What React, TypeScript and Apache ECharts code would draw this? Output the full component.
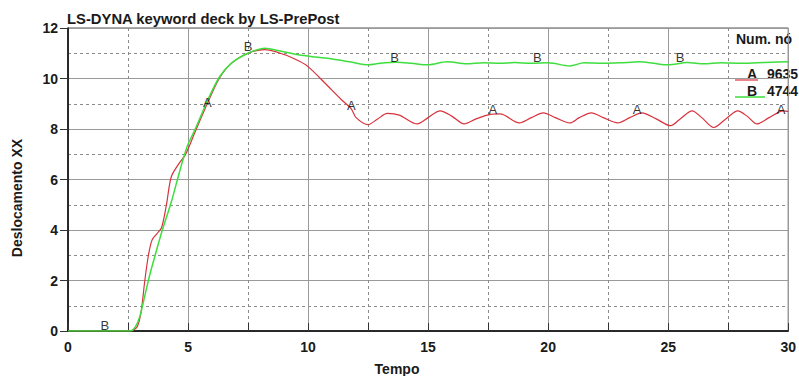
import React, { useEffect, useRef } from "react";
import * as echarts from "echarts";

const seriesNames = ["A", "B"];
const nodeIds = ["9635", "4744"];

const curveA: [number, number][] = [
  [0, 0], [2.6, 0], [2.75, 0.05], [2.9, 0.2], [3.05, 0.8], [3.2, 2.0], [3.35, 3.0], [3.5, 3.6],
  [3.7, 3.85], [3.9, 4.1], [4.1, 5.0], [4.3, 6.1], [4.6, 6.6], [4.9, 7.0], [5.3, 7.9], [5.8, 9.0],
  [6.3, 10.0], [6.8, 10.6], [7.5, 11.0], [8.2, 11.14], [9.0, 10.95], [9.6, 10.7], [10.0, 10.47],
  [10.7, 9.82], [11.4, 9.15], [11.8, 8.8], [12.0, 8.45], [12.5, 8.17], [12.9, 8.4], [13.3, 8.62],
  [13.8, 8.55], [14.55, 8.2], [15.0, 8.45], [15.5, 8.72], [16.0, 8.5], [16.5, 8.2], [17.0, 8.4],
  [17.6, 8.58], [18.0, 8.6], [18.8, 8.24], [19.3, 8.45], [19.8, 8.64], [20.3, 8.45], [20.9, 8.24],
  [21.3, 8.45], [21.8, 8.64], [22.3, 8.45], [22.9, 8.24], [23.4, 8.45], [23.9, 8.64], [24.5, 8.4],
  [25.1, 8.13], [25.5, 8.4], [26.0, 8.72], [26.4, 8.45], [26.9, 8.06], [27.4, 8.4], [27.9, 8.72],
  [28.3, 8.5], [28.7, 8.2], [29.2, 8.45], [29.8, 8.72], [30, 8.7],
];

const curveB: [number, number][] = [
  [0, 0], [2.6, 0], [2.8, 0.15], [3.0, 0.6], [3.2, 1.4], [3.4, 2.2], [3.6, 2.9], [3.93, 4.0],
  [4.3, 5.1], [4.63, 6.25], [4.96, 7.3], [5.3, 8.0], [5.8, 9.1], [6.3, 10.05], [6.8, 10.6],
  [7.5, 11.0], [8.2, 11.2], [8.8, 11.1], [9.6, 10.94], [10.3, 10.85], [10.95, 10.78], [11.8, 10.65],
  [12.5, 10.54], [13.0, 10.6], [13.7, 10.64], [14.3, 10.6], [15.0, 10.54], [15.8, 10.66],
  [16.6, 10.58], [17.3, 10.62], [18.0, 10.6], [18.6, 10.63], [19.3, 10.6], [20.0, 10.62],
  [20.9, 10.5], [21.5, 10.62], [22.3, 10.6], [23.0, 10.62], [23.8, 10.66], [24.4, 10.6],
  [25.0, 10.54], [25.8, 10.63], [26.5, 10.58], [27.2, 10.62], [28.0, 10.6], [28.7, 10.62],
  [29.3, 10.64], [30, 10.66],
];

const labelPointsA: [number, number][] = [[5.8, 9.03], [11.8, 8.95], [17.7, 8.76], [23.7, 8.76], [29.7, 8.76]];
const labelPointsB: [number, number][] = [[1.53, 0.23], [7.5, 11.26], [13.6, 10.82], [19.55, 10.82], [25.5, 10.82]];

const xTicks = { min: 0, max: 30, interval: 5 };
const yTicks = { min: 0, max: 12, interval: 2 };

const colorA = "#d8323c";
const colorB = "#3ede3e";
const FONT = "Liberation Sans, Arial, sans-serif";

export default function App() {
  const ref = useRef<HTMLDivElement>(null);
  useEffect(() => {
    if (!ref.current) return;
    const chart = echarts.init(ref.current, undefined, { renderer: "svg" });
    const labelSeries = (name: string, pts: [number, number][]) => ({
      type: "scatter",
      name: name + "-label",
      data: pts,
      symbol: "circle",
      symbolSize: 1,
      itemStyle: { color: "rgba(0,0,0,0)" },
      silent: true,
      z: 5,
      label: {
        show: true,
        position: "inside",
        formatter: name,
        color: "#000",
        fontFamily: FONT,
        fontSize: 13,
      },
    });
    chart.setOption({
      animation: false,
      backgroundColor: "#ffffff",
      title: {
        text: "LS-DYNA keyword deck by LS-PrePost",
        left: 67,
        top: 11,
        padding: 0,
        textStyle: { fontFamily: FONT, fontSize: 14.8, fontWeight: "bold", color: "#1a1a1a" },
      },
      grid: {
        left: 68, top: 28, right: 5, bottom: 45,
        show: true, borderColor: "#555", borderWidth: 1,
      },
      xAxis: {
        type: "value",
        min: xTicks.min, max: xTicks.max, interval: xTicks.interval,
        axisLine: { lineStyle: { color: "#000", width: 1.5 } },
        axisTick: { show: true, inside: true, length: 8, lineStyle: { color: "#333" } },
        minorTick: { show: true, splitNumber: 2, length: 8, lineStyle: { color: "#333" } },
        splitLine: { show: true, lineStyle: { color: "#9a9a9a", width: 1 } },
        minorSplitLine: { show: true, lineStyle: { color: "#8a8a8a", type: [3, 3], width: 1 } },
        axisLabel: { color: "#1a1a1a", fontFamily: FONT, fontSize: 14, fontWeight: "bold", margin: 9 },
      },
      yAxis: {
        type: "value",
        min: yTicks.min, max: yTicks.max, interval: yTicks.interval,
        axisLine: { show: true, lineStyle: { color: "#000", width: 1.5 } },
        axisTick: { show: true, inside: false, length: 8, lineStyle: { color: "#333" } },
        minorTick: { show: false, splitNumber: 2 },
        splitLine: { show: true, lineStyle: { color: "#9a9a9a", width: 1 } },
        minorSplitLine: { show: true, lineStyle: { color: "#8a8a8a", type: [3, 3], width: 1 } },
        axisLabel: { color: "#1a1a1a", fontFamily: FONT, fontSize: 14, fontWeight: "bold", margin: 10 },
      },
      series: [
        {
          type: "line", name: seriesNames[0], data: curveA, smooth: 0.3, showSymbol: false,
          lineStyle: { color: colorA, width: 1.2 }, z: 3,
        },
        {
          type: "line", name: seriesNames[1], data: curveB, smooth: 0.3, showSymbol: false,
          lineStyle: { color: colorB, width: 1.5 }, z: 4,
        },
        labelSeries(seriesNames[0], labelPointsA),
        labelSeries(seriesNames[1], labelPointsB),
      ],
      graphic: [
        {
          type: "text", x: 17, y: 198, rotation: Math.PI / 2,
          style: { text: "Deslocamento XX", fontFamily: FONT, fontSize: 14, fontWeight: "bold", fill: "#1a1a1a", align: "center", verticalAlign: "middle" },
        },
        {
          type: "text", x: 397, y: 369,
          style: { text: "Tempo", fontFamily: FONT, fontSize: 14, fontWeight: "bold", fill: "#1a1a1a", align: "center", verticalAlign: "middle" },
        },
        {
          type: "text", x: 736, y: 39,
          style: { text: "Num. nó", fontFamily: FONT, fontSize: 14, fontWeight: "bold", fill: "#1a1a1a", align: "left", verticalAlign: "middle" },
        },
        {
          type: "line", shape: { x1: 735, y1: 80, x2: 758, y2: 80 },
          style: { stroke: colorA, lineWidth: 1.2 },
        },
        {
          type: "text", x: 752, y: 74,
          style: { text: seriesNames[0], fontFamily: FONT, fontSize: 14, fontWeight: "bold", fill: "#1a1a1a", align: "center", verticalAlign: "middle" },
        },
        {
          type: "text", x: 767, y: 74,
          style: { text: nodeIds[0], fontFamily: FONT, fontSize: 14, fontWeight: "bold", fill: "#1a1a1a", align: "left", verticalAlign: "middle" },
        },
        {
          type: "line", shape: { x1: 735, y1: 97, x2: 765, y2: 97 },
          style: { stroke: colorB, lineWidth: 1.5 },
        },
        {
          type: "text", x: 752, y: 91,
          style: { text: seriesNames[1], fontFamily: FONT, fontSize: 14, fontWeight: "bold", fill: "#1a1a1a", align: "center", verticalAlign: "middle" },
        },
        {
          type: "text", x: 767, y: 91,
          style: { text: nodeIds[1], fontFamily: FONT, fontSize: 14, fontWeight: "bold", fill: "#1a1a1a", align: "left", verticalAlign: "middle" },
        },
      ],
    });
    return () => chart.dispose();
  }, []);
  return (
    <div
      ref={ref}
      style={{ position: "absolute", left: 0, top: 0, width: 799, height: 376, background: "#fff" }}
    />
  );
}
